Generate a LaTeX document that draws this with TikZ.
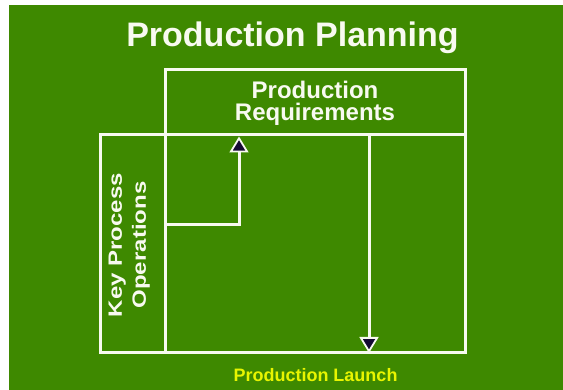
\documentclass[tikz,border=0pt]{standalone}
\usepackage{fontspec}
\setmainfont{Liberation Sans}
\usetikzlibrary{arrows.meta}
\definecolor{bggreen}{RGB}{62,137,0}
\definecolor{linewhite}{RGB}{248,250,240}
\definecolor{launchyellow}{RGB}{232,245,0}
\definecolor{tipfill}{RGB}{20,10,50}
\tikzset{
  frame/.style={draw=linewhite, line width=3pt, minimum width=#1, inner sep=0pt},
  flow/.style={draw=linewhite, line width=3pt,
    -{Triangle[width=19pt, length=16pt, fill=tipfill, line width=1.8pt]}},
  label/.style={text=linewhite, font=\bfseries, inner sep=0pt},
}
\begin{document}
\begin{tikzpicture}[x=1pt,y=-1pt]
\useasboundingbox (0,0) rectangle (563,390);
\fill[white] (0,0) rectangle (563,390);
\fill[bggreen] (9,5) rectangle (563,390);
% boxes
\node[frame=300pt, minimum height=65pt] (req) at (315,102.5) {};
\node[frame=300pt, minimum height=218pt] (main) at (315,244) {};
\node[frame=65pt, minimum height=218pt] (kpo) at (132.5,244) {};
% texts
\node[label, anchor=base, font=\bfseries\fontsize{34}{40}\selectfont] (title) at (292.5,47) {Production Planning};
\node[label, align=center, font=\bfseries\fontsize{24}{22}\selectfont] (reqtext) at (315,103) {Production\\Requirements};
\node[label, rotate=90] (kpotext) at (129,245)
  {\scalebox{1}[0.8]{\fontsize{24}{30}\selectfont\bfseries\begin{tabular}{@{}c@{}}Key Process\\Operations\end{tabular}}};
\node[text=launchyellow, font=\bfseries\fontsize{18}{20}\selectfont, anchor=base, inner sep=0pt] (launch) at (315.5,382) {Production Launch};
% connectors
\coordinate (ya) at (0,225);
\coordinate (xa) at (239,0);
\coordinate (xb) at (369,0);
\draw[flow] (kpo.east |- ya) -| (req.south -| xa);
\draw[flow, shorten >=1.5pt] (req.south -| xb) -- (main.south -| xb);
\end{tikzpicture}
\end{document}
